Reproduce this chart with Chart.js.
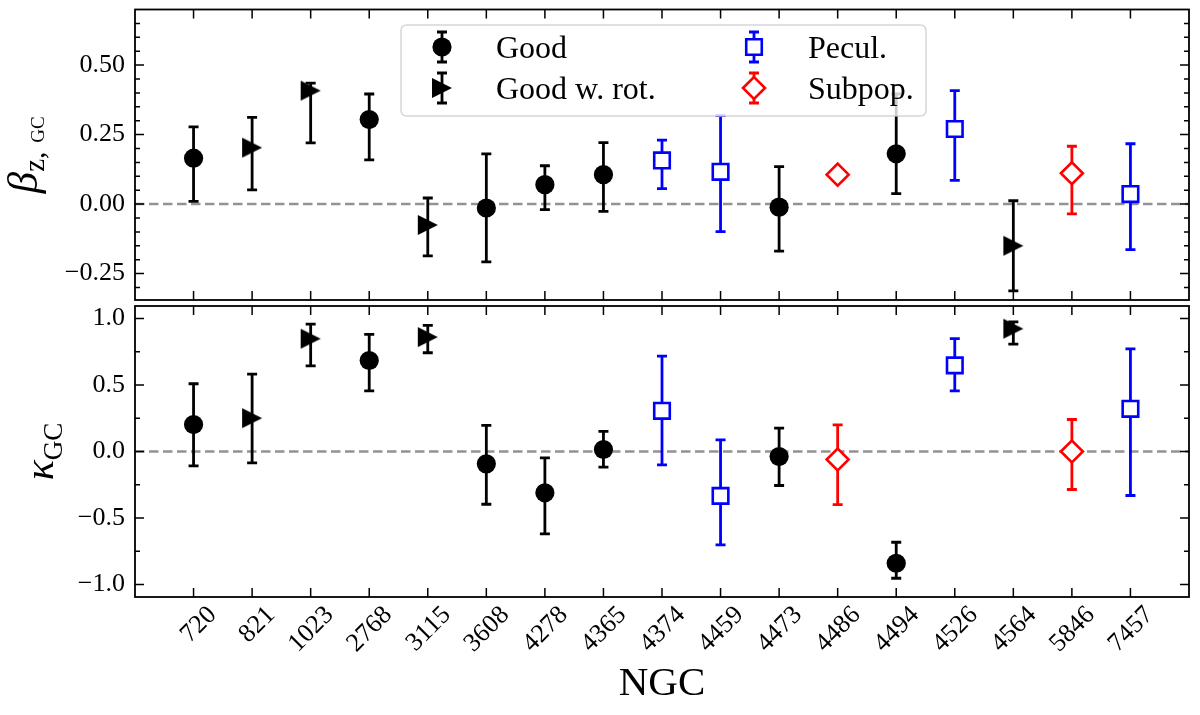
<!DOCTYPE html>
<html>
<head>
<meta charset="utf-8">
<script src="https://cdn.jsdelivr.net/npm/chart.js@4.4.0/dist/chart.umd.min.js"></script>
<style>
  body { margin: 0; background: #fff; overflow: hidden; }
  #wrap { position: relative; width: 1200px; height: 715px; }
  #top { position: absolute; left: 0; top: 0; width: 1200px; height: 305px; }
  #bot { position: absolute; left: 0; top: 300px; width: 1200px; height: 415px; }
</style>
</head>
<body>
<div id="wrap">
  <div id="top"><canvas id="c1"></canvas></div>
  <div id="bot"><canvas id="c2"></canvas></div>
</div>
<script>
// galaxies (NGC number) and their class
var categories = ['720','821','1023','2768','3115','3608','4278','4365','4374','4459','4473','4486','4494','4526','4564','5846','7457'];
var groups     = ['good','rot','rot','good','rot','good','good','good','pecul','pecul','good','subpop','good','pecul','rot','subpop','pecul'];
var groupKeys   = ['good','rot','pecul','subpop'];
var groupLabels = ['Good','Good w. rot.','Pecul.','Subpop.'];

// beta_z (top panel), with lower / upper ends of the error bars
var betaVal = [0.165, 0.203, 0.408, 0.304, -0.075, -0.014, 0.070, 0.106, 0.157, 0.116, -0.011, 0.106, 0.181, 0.270, -0.150, 0.111, 0.036];
var betaLo  = [0.010, 0.051, 0.220, 0.159, -0.186, -0.208, -0.020, -0.026, 0.056, -0.099, -0.169, null, 0.038, 0.085, -0.312, -0.035, -0.164];
var betaHi  = [0.278, 0.312, 0.435, 0.396, 0.022, 0.181, 0.138, 0.221, 0.230, 0.318, 0.135, null, 0.396, 0.408, 0.012, 0.208, 0.217];

// kappa (bottom panel)
var kappaVal = [0.203, 0.251, 0.849, 0.685, 0.861, -0.093, -0.311, 0.015, 0.306, -0.334, -0.038, -0.060, -0.841, 0.648, 0.924, 0.000, 0.321];
var kappaLo  = [-0.108, -0.085, 0.645, 0.457, 0.743, -0.397, -0.620, -0.118, -0.100, -0.703, -0.256, -0.400, -0.954, 0.457, 0.808, -0.286, -0.331];
var kappaHi  = [0.510, 0.582, 0.959, 0.881, 0.949, 0.196, -0.048, 0.151, 0.718, 0.088, 0.176, 0.200, -0.683, 0.849, 0.975, 0.241, 0.773];

// tick labels
var betaTicks  = [-0.25, 0, 0.25, 0.5];
var kappaTicks = [-1, -0.5, 0, 0.5, 1];

var FONT = "'Liberation Serif', 'DejaVu Serif', serif";

// right pointing triangle like matplotlib '>'
var tri = document.createElement('canvas');
tri.width = 22; tri.height = 22;
(function(){
  var c = tri.getContext('2d');
  c.fillStyle = '#000';
  c.beginPath();
  c.moveTo(21, 11); c.lineTo(1, 1); c.lineTo(1, 21);
  c.closePath(); c.fill();
})();

var groupStyles = {
  good:   {pointStyle: 'circle',  radius: 9.6, bg: '#000', border: '#000', bw: 0,   err: '#000'},
  rot:    {pointStyle: tri,       radius: 11,  bg: '#000', border: '#000', bw: 0,   err: '#000'},
  pecul:  {pointStyle: 'rect',    radius: 11,  bg: '#fff', border: '#0000ff', bw: 2.6, err: '#0000ff'},
  subpop: {pointStyle: 'rectRot', radius: 11,  bg: '#fff', border: '#ff0000', bw: 2.6, err: '#ff0000'}
};

function fmt(v, d) {
  return (v < 0 ? '\u2212' : '') + Math.abs(v).toFixed(d);
}

function buildDatasets(vals, lo, hi) {
  return groupKeys.map(function(g, k) {
    var st = groupStyles[g];
    var pts = [];
    for (var i = 0; i < categories.length; i++) {
      if (groups[i] === g) pts.push({x: i, y: vals[i], lo: lo[i], hi: hi[i]});
    }
    return {
      label: groupLabels[k],
      key: g,
      errColor: st.err,
      data: pts,
      showLine: false,
      pointStyle: st.pointStyle,
      pointRadius: st.radius,
      pointBackgroundColor: st.bg,
      pointBorderColor: st.border,
      pointBorderWidth: st.bw,
      backgroundColor: st.bg,
      borderColor: st.border
    };
  });
}

function drawMarker(ctx, st, x, y) {
  ctx.save();
  if (typeof st.pointStyle === 'object') {
    ctx.drawImage(st.pointStyle, x - st.pointStyle.width / 2, y - st.pointStyle.height / 2);
    ctx.restore();
    return;
  }
  ctx.fillStyle = st.bg; ctx.strokeStyle = st.border; ctx.lineWidth = st.bw;
  ctx.beginPath();
  var r = st.radius;
  if (st.pointStyle === 'circle') {
    ctx.arc(x, y, r, 0, Math.PI * 2);
  } else if (st.pointStyle === 'rect') {
    var s = r * Math.SQRT1_2;
    ctx.rect(x - s, y - s, 2 * s, 2 * s);
  } else {
    ctx.moveTo(x - r, y); ctx.lineTo(x, y - r); ctx.lineTo(x + r, y); ctx.lineTo(x, y + r); ctx.closePath();
  }
  ctx.fill();
  if (st.bw) ctx.stroke();
  ctx.restore();
}

function errbar(ctx, px, pl, ph) {
  ctx.beginPath();
  ctx.moveTo(px, pl); ctx.lineTo(px, ph);
  ctx.moveTo(px - 5, pl); ctx.lineTo(px + 5, pl);
  ctx.moveTo(px - 5, ph); ctx.lineTo(px + 5, ph);
  ctx.stroke();
}

// zero line + error bars, under the markers
var errPlugin = {
  id: 'errbars',
  beforeDatasetsDraw: function(chart) {
    var ctx = chart.ctx, a = chart.chartArea, xs = chart.scales.x, ys = chart.scales.y;
    ctx.save();
    ctx.beginPath();
    ctx.rect(a.left, a.top, a.right - a.left, a.bottom - a.top);
    ctx.clip();
    var y0 = ys.getPixelForValue(0);
    ctx.setLineDash([9.5, 4.5]);
    ctx.strokeStyle = '#939393';
    ctx.lineWidth = 2.5;
    ctx.beginPath(); ctx.moveTo(a.left, y0); ctx.lineTo(a.right, y0); ctx.stroke();
    ctx.setLineDash([]);
    ctx.lineWidth = 2.8;
    chart.data.datasets.forEach(function(ds) {
      ctx.strokeStyle = ds.errColor;
      ds.data.forEach(function(p) {
        if (p.lo == null || p.hi == null) return;
        errbar(ctx, xs.getPixelForValue(p.x), ys.getPixelForValue(p.lo), ys.getPixelForValue(p.hi));
      });
    });
    ctx.restore();
  }
};

// legend with error bar glyphs, two columns
var legendPlugin = {
  id: 'errLegend',
  afterDatasetsDraw: function(chart, args, o) {
    if (!o.show) return;
    var ctx = chart.ctx;
    ctx.save();
    var x0 = 401, y0 = 25, x1 = 926, y1 = 116, r = 6;
    ctx.beginPath();
    ctx.moveTo(x0 + r, y0); ctx.lineTo(x1 - r, y0); ctx.quadraticCurveTo(x1, y0, x1, y0 + r);
    ctx.lineTo(x1, y1 - r); ctx.quadraticCurveTo(x1, y1, x1 - r, y1);
    ctx.lineTo(x0 + r, y1); ctx.quadraticCurveTo(x0, y1, x0, y1 - r);
    ctx.lineTo(x0, y0 + r); ctx.quadraticCurveTo(x0, y0, x0 + r, y0);
    ctx.closePath();
    ctx.fillStyle = 'rgba(255,255,255,0.8)';
    ctx.fill();
    ctx.strokeStyle = 'rgba(204,204,204,0.8)';
    ctx.lineWidth = 1.5;
    ctx.stroke();
    var mx = [442, 442, 754, 754], my = [47, 88, 47, 88], tx = [496, 496, 808, 808];
    chart.data.datasets.forEach(function(ds, k) {
      var st = groupStyles[ds.key];
      ctx.strokeStyle = st.err; ctx.lineWidth = 2.8;
      errbar(ctx, mx[k], my[k] + 15, my[k] - 15);
      drawMarker(ctx, st, mx[k], my[k]);
      ctx.fillStyle = '#000';
      ctx.font = '32px ' + FONT;
      ctx.textBaseline = 'alphabetic';
      ctx.textAlign = 'left';
      ctx.fillText(ds.label, tx[k], my[k] + 11);
    });
    ctx.restore();
  }
};

// frame, inward ticks on all sides, y title
var framePlugin = {
  id: 'frame',
  afterDraw: function(chart, args, o) {
    var ctx = chart.ctx, a = chart.chartArea, xs = chart.scales.x, ys = chart.scales.y;
    ctx.save();
    ctx.strokeStyle = '#000';
    ctx.lineWidth = 1.5;
    ctx.beginPath();
    for (var i = 0; i < categories.length; i++) {
      var px = xs.getPixelForValue(i);
      ctx.moveTo(px, a.bottom); ctx.lineTo(px, a.bottom - 9);
      ctx.moveTo(px, a.top); ctx.lineTo(px, a.top + 9);
    }
    ys.ticks.forEach(function(t) {
      var py = ys.getPixelForValue(t.value);
      ctx.moveTo(a.left, py); ctx.lineTo(a.left + 9, py);
      ctx.moveTo(a.right, py); ctx.lineTo(a.right - 9, py);
    });
    for (var k = Math.ceil(ys.min / o.minorStep); k * o.minorStep <= ys.max; k++) {
      var py2 = ys.getPixelForValue(k * o.minorStep);
      ctx.moveTo(a.left, py2); ctx.lineTo(a.left + 5, py2);
      ctx.moveTo(a.right, py2); ctx.lineTo(a.right - 5, py2);
    }
    ctx.stroke();
    ctx.lineWidth = 1.8;
    ctx.strokeRect(a.left, a.top, a.right - a.left, a.bottom - a.top);

    // rotated y title made of parts (main symbol + subscripts)
    var parts = o.title, total = 0;
    parts.forEach(function(p) { ctx.font = p.font; p.w = ctx.measureText(p.text).width; total += p.w + (p.gap || 0); });
    ctx.translate(o.titleX, (a.top + a.bottom) / 2);
    ctx.rotate(-Math.PI / 2);
    ctx.fillStyle = '#000';
    ctx.textBaseline = 'alphabetic';
    ctx.textAlign = 'left';
    var pos = -total / 2;
    parts.forEach(function(p) {
      pos += (p.gap || 0);
      ctx.font = p.font;
      ctx.fillText(p.text, pos, p.dy);
      pos += p.w;
    });
    ctx.restore();
  }
};

function yAxis(min, max, ticks, dec) {
  return {
    type: 'linear',
    min: min,
    max: max,
    afterBuildTicks: function(s) { s.ticks = ticks.map(function(v) { return {value: v}; }); },
    afterFit: function(s) { s.width = 135; s.paddingTop = 0; s.paddingBottom = 0; },
    grid: {display: false, drawTicks: false},
    border: {display: false},
    ticks: {
      padding: 10,
      color: '#000',
      font: {family: FONT, size: 26},
      callback: function(v) { return fmt(v, dec); }
    }
  };
}

var topChart = new Chart(document.getElementById('c1'), {
  type: 'scatter',
  data: {datasets: buildDatasets(betaVal, betaLo, betaHi)},
  options: {
    responsive: true,
    maintainAspectRatio: false,
    animation: false,
    events: [],
    layout: {autoPadding: false, padding: {left: 0, right: 11, top: 9.5, bottom: 5}},
    scales: {
      x: {type: 'linear', min: -1, max: 17, display: false},
      y: yAxis(-0.345, 0.70, betaTicks, 2)
    },
    plugins: {
      legend: {display: false},
      tooltip: {enabled: false},
      errLegend: {show: true},
      frame: {
        minorStep: 0.05,
        titleX: 37,
        title: [
          {text: '\u03b2', font: 'italic 43px ' + FONT, dy: 0},
          {text: 'z,', font: '29px ' + FONT, dy: 7},
          {text: 'GC', font: '19px ' + FONT, dy: 7, gap: 9}
        ]
      }
    }
  },
  plugins: [errPlugin, legendPlugin, framePlugin]
});

var botChart = new Chart(document.getElementById('c2'), {
  type: 'scatter',
  data: {datasets: buildDatasets(kappaVal, kappaLo, kappaHi)},
  options: {
    responsive: true,
    maintainAspectRatio: false,
    animation: false,
    events: [],
    layout: {autoPadding: false, padding: {left: 0, right: 11, top: 6, bottom: 0}},
    scales: {
      x: {
        type: 'linear',
        min: -1,
        max: 17,
        afterFit: function(s) { s.height = 118; s.paddingLeft = 0; s.paddingRight = 0; },
        grid: {display: false, drawTicks: false},
        border: {display: false},
        ticks: {
          stepSize: 1,
          autoSkip: false,
          minRotation: 45,
          maxRotation: 45,
          padding: 3,
          labelOffset: 19,
          color: '#000',
          font: {family: FONT, size: 26},
          callback: function(v) { return categories[v] !== undefined ? categories[v] : ''; }
        },
        title: {
          display: true,
          text: 'NGC',
          color: '#000',
          font: {family: FONT, size: 41},
          padding: {top: 0, bottom: 6}
        }
      },
      y: yAxis(-1.095, 1.095, kappaTicks, 1)
    },
    plugins: {
      legend: {display: false},
      tooltip: {enabled: false},
      errLegend: {show: false},
      frame: {
        minorStep: 0.25,
        titleX: 53,
        title: [
          {text: '\u03ba', font: 'italic 42px ' + FONT, dy: 0},
          {text: 'GC', font: '27px ' + FONT, dy: 9}
        ]
      }
    }
  },
  plugins: [errPlugin, legendPlugin, framePlugin]
});
</script>
</body>
</html>
